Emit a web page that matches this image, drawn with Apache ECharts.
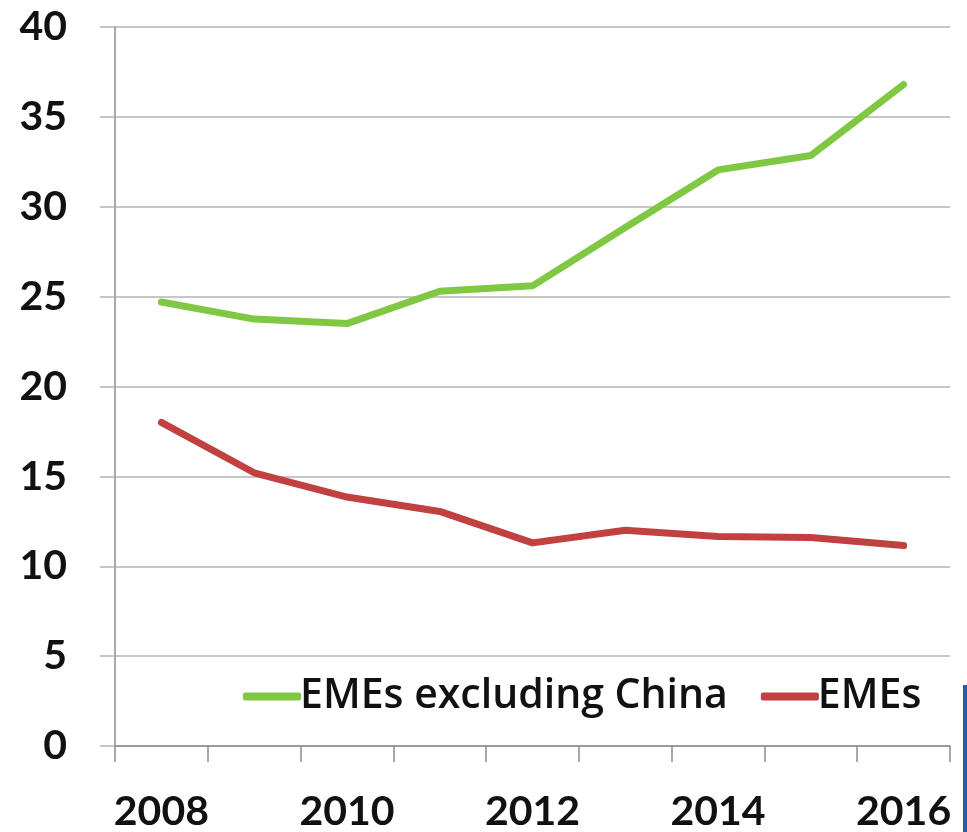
<!DOCTYPE html>
<html>
<head>
<meta charset="utf-8">
<script src="https://cdn.jsdelivr.net/npm/echarts@6/dist/echarts.min.js"></script>
<style>
  html, body { margin: 0; padding: 0; background: #fff; }
  #chart { width: 967px; height: 832px; }
</style>
</head>
<body>
<div id="chart"></div>
<script>
// Years on the horizontal axis
const years = ['2008', '2009', '2010', '2011', '2012', '2013', '2014', '2015', '2016'];
// Share series, per cent
const emesExChina = [24.7, 23.75, 23.5, 25.3, 25.6, 28.85, 32.05, 32.85, 36.8];
const emes = [18.0, 15.2, 13.85, 13.05, 11.3, 12.0, 11.65, 11.6, 11.15];
// Vertical axis range
const yMin = 0, yMax = 40, yStep = 5;

const gridColor = '#b4b4b4';
const axisColor = '#8c8c8c';
const fontFamily = 'Lato, "Liberation Sans", sans-serif';

const chart = echarts.init(document.getElementById('chart'), null, { renderer: 'canvas' });
chart.setOption({
  animation: false,
  backgroundColor: '#ffffff',
  grid: { left: 115, right: 17, top: 27, bottom: 84, containLabel: false },
  legend: {
    left: 238,
    top: 671,
    itemWidth: 58,
    itemHeight: 8,
    itemGap: 33,
    icon: 'roundRect',
    textStyle: {
      fontFamily: '"Open Sans", Lato, sans-serif',
      fontWeight: 600,
      fontSize: 41,
      color: '#111',
      padding: [0, 0, 0, -6]
    },
    data: ['EMEs excluding China', 'EMEs']
  },
  xAxis: {
    type: 'category',
    data: years,
    boundaryGap: true,
    axisLine: { show: true, lineStyle: { color: axisColor, width: 1.5 } },
    axisTick: { show: true, interval: 0, length: 16, lineStyle: { color: axisColor, width: 1.5 } },
    axisLabel: {
      interval: 1,
      margin: 45,
      fontFamily: fontFamily,
      fontWeight: 'bold',
      fontSize: 41,
      color: '#111'
    },
    splitLine: { show: false }
  },
  yAxis: {
    type: 'value',
    min: yMin,
    max: yMax,
    interval: yStep,
    axisLine: { show: true, lineStyle: { color: axisColor, width: 1.5 } },
    axisTick: { show: true, length: 15, lineStyle: { color: gridColor, width: 1.5 } },
    axisLabel: {
      margin: 48,
      fontFamily: fontFamily,
      fontWeight: 'bold',
      fontSize: 41,
      color: '#111'
    },
    splitLine: { show: true, lineStyle: { color: gridColor, width: 1.5 } }
  },
  series: [
    {
      name: 'EMEs excluding China',
      type: 'line',
      data: emesExChina,
      showSymbol: false,
      symbol: 'none',
      color: '#80c843',
      lineStyle: { color: '#80c843', width: 7, cap: 'round', join: 'round' }
    },
    {
      name: 'EMEs',
      type: 'line',
      data: emes,
      showSymbol: false,
      symbol: 'none',
      color: '#c0413f',
      lineStyle: { color: '#c0413f', width: 7, cap: 'round', join: 'round' }
    }
  ],
  graphic: [
    {
      type: 'rect',
      shape: { x: 963, y: 685, width: 4, height: 147 },
      style: { fill: '#1f5fa8' },
      silent: true
    }
  ]
});
</script>
</body>
</html>
